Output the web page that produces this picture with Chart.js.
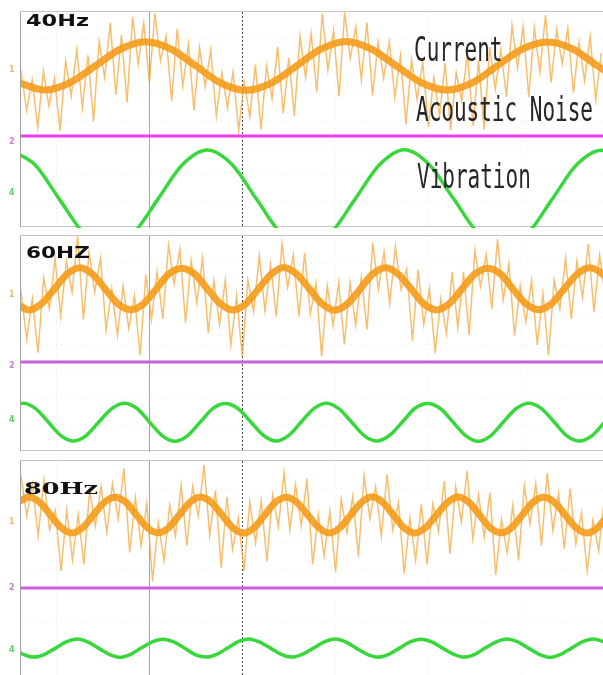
<!DOCTYPE html>
<html>
<head>
<meta charset="utf-8">
<script src="https://cdn.jsdelivr.net/npm/chart.js@4/dist/chart.umd.min.js"></script>
<style>
  body { margin: 0; background: #fff; width: 603px; height: 675px; overflow: hidden; position: relative; }
  .frame { position: absolute; left: 20px; width: 600px; height: 216px; box-sizing: border-box;
           border-left: 1px solid #a0a0a0; border-top: 1px solid #c4c4c4; border-bottom: 1px solid #c4c4c4; }
  canvas { position: absolute; left: 21px; }
  .freq { position: absolute; font-weight: bold; color: #111; white-space: nowrap; transform-origin: 0 0; }
  .name { position: absolute; font: 21px/21px "DejaVu Sans Mono", monospace; color: #262626;
          white-space: nowrap; transform: scaleY(1.6); transform-origin: 0 0; }
  .mark { position: absolute; left: 9px; font: bold 8px/8px "DejaVu Sans", sans-serif; opacity: 0.8; }
</style>
</head>
<body>
<div class="frame" style="top:11px"></div>
<div class="frame" style="top:235px"></div>
<div class="frame" style="top:460px"></div>
<canvas id="p40" width="583" height="216" style="top:12px"></canvas>
<canvas id="p60" width="583" height="216" style="top:236px"></canvas>
<canvas id="p80" width="583" height="216" style="top:461px"></canvas>

<div class="freq" style="left:26px;top:13px;font:bold 16px/16px 'DejaVu Sans';transform:scaleX(1.4)">40Hz</div>
<div class="freq" style="left:26px;top:245px;font:bold 16px/16px 'DejaVu Sans';transform:scaleX(1.35)">60HZ</div>
<div class="freq" style="left:24px;top:480px;font:bold 17px/17px 'DejaVu Serif';transform:scaleX(1.5)">80Hz</div>

<div class="name" style="left:414px;top:34px">Current</div>
<div class="name" style="left:416px;top:94px">Acoustic Noise</div>
<div class="name" style="left:417px;top:161px">Vibration</div>

<div class="mark" style="top:66px;color:#e9a548">1</div>
<div class="mark" style="top:138px;color:#d84fd8">2</div>
<div class="mark" style="top:189px;color:#39c43f">4</div>
<div class="mark" style="top:291px;color:#e9a548">1</div>
<div class="mark" style="top:362px;color:#b35ac9">2</div>
<div class="mark" style="top:416px;color:#39c43f">4</div>
<div class="mark" style="top:518px;color:#e9a548">1</div>
<div class="mark" style="top:584px;color:#c35ad6">2</div>
<div class="mark" style="top:646px;color:#39c43f">4</div>

<script>
// scope divisions: x = 0 is the grey grid line, y = 0 is the middle of each panel
const xMin = -1.387, xMax = 4.882;
const gridX = [-1, 0, 1, 2, 3, 4];
const gridY = [-3, -2, -1, 0, 1, 2, 3];

// first sample time and sample step of each trace (40Hz, 60Hz, 80Hz)
const noiseStart = -1.387;
const noiseStep = [0.06, 0.061, 0.0615];
const currentStart = [-1.40, -1.438, -1.416];
const currentStep = [0.27, 0.137, 0.1153];
const vibStart = [-1.505, -1.502, -1.479];
const vibStep = [0.265, 0.136, 0.1156];
const groundLevel = [-0.59, -0.67, -0.70];

const noise40 = [1.85,0.35,1.48,-0.27,1.81,0.52,1.55,-0.40,2.19,0.89,
  2.61,0.45,2.40,-0.05,2.91,1.56,3.60,0.94,3.15,0.65,
  3.82,2.07,3.59,1.38,3.95,2.19,3.11,0.71,3.39,1.25,
  2.80,0.35,2.69,1.24,2.60,0.16,1.75,0.45,1.78,-0.40,
  1.41,0.12,2.05,-0.35,1.99,0.79,2.71,0.25,2.30,0.15,
  3.11,1.56,3.20,1.04,3.95,1.85,3.32,0.87,3.99,2.28,
  3.45,1.49,3.61,0.91,2.89,1.55,2.90,0.85,2.39,-0.16,
  2.20,0.76,2.15,-0.25,1.58,0.13,2.11,-0.38,1.75,0.71,
  2.49,-0.21,2.21,-0.35,2.70,1.15,2.61,0.86,3.50,1.94,
  3.45,0.85,3.42,1.77,3.89,1.38,3.35,2.09,3.41,1.01,
  2.89,1.45,3.10,0.75,2.49];
const noise60 = [1.95,0.17,1.68,-0.32,2.46,1.30,3.17,1.03,3.06,1.93,
  3.98,0.90,3.40,1.92,3.18,0.51,2.05,0.32,2.15,0.57,
  1.78,-0.42,2.56,0.90,2.67,0.93,3.66,2.23,3.51,0.80,
  3.10,1.52,3.18,0.41,2.35,0.72,2.35,-0.03,1.78,-0.45,
  2.36,1.20,3.27,1.23,2.96,1.03,3.71,2.10,3.30,1.02,
  3.38,1.11,2.25,-0.45,2.15,0.67,2.28,-0.02,2.26,0.70,
  2.47,0.53,3.76,2.03,3.41,1.50,3.60,2.02,2.78,0.11,
  2.75,0.72,2.05,-0.33,1.68,0.38,2.66,0.60,2.67,0.33,
  3.46,2.13,3.31,1.30,3.90,1.62,2.98,0.31,2.15,0.82,
  2.35,-0.03,1.88,-0.42,2.36,1.30,3.17,0.93,3.06,1.73,
  3.71,1.20,3.30,1.72];
const noise80 = [3.46,1.96,3.15,1.23,3.31,1.45,2.17,-0.07,2.18,0.33,
  2.00,0.17,2.92,1.59,3.06,1.36,3.16,1.85,3.73,0.61,
  2.65,0.87,2.43,-0.45,1.73,0.30,2.37,1.22,3.09,0.86,
  3.06,1.96,3.85,1.23,2.91,0.05,2.67,0.73,1.88,-0.07,
  2.50,0.97,2.52,0.29,2.76,1.56,3.56,1.45,3.13,1.61,
  3.35,0.17,2.03,0.48,2.13,-0.10,2.57,1.32,2.69,0.46,
  3.46,1.86,3.05,1.23,3.51,1.45,2.47,-0.17,1.88,0.33,
  2.40,0.17,2.42,1.39,3.26,0.56,3.06,1.75,3.63,1.11,
  2.75,1.17,2.83,-0.22,1.83,0.60,2.37,0.32,3.09,1.66,
  3.16,0.86,3.55,1.43,2.81,0.75,2.97,0.93,2.08,-0.07,
  1.80,0.67,2.62];

const current40 = [1.37,1.11,1.38,2.00,2.62,2.90,2.64,2.01,1.37,1.10,1.36,1.99,2.63,
  2.91,2.63,2.00,1.38,1.11,1.37,2.00,2.62,2.89,2.64,2.01,1.37];
const current60 = [1.49,1.26,1.50,2.04,2.59,2.82,2.58,2.03,
  1.48,1.27,1.49,2.05,2.60,2.81,2.59,2.04,
  1.50,1.26,1.48,2.03,2.58,2.83,2.59,2.05,
  1.49,1.25,1.49,2.04,2.60,2.82,2.58,2.04,
  1.48,1.26,1.50,2.05,2.59,2.81,2.60,2.03,
  1.49,1.27,1.49,2.04,2.58,2.82,2.59,2.04];
const current80 = [2.47,2.67,2.47,2.00,1.53,1.33,1.53,2.00,
  2.46,2.66,2.48,2.01,1.54,1.34,1.52,1.99,
  2.47,2.67,2.47,2.00,1.53,1.32,1.53,2.01,
  2.48,2.66,2.46,2.00,1.54,1.33,1.53,2.00,
  2.47,2.68,2.47,1.99,1.52,1.33,1.54,2.00,
  2.46,2.67,2.48,2.01,1.53,1.34,1.53,2.00,
  2.47,2.66,2.47,2.00,1.53,1.33,1.52,2.00];

const vibration40 = [-1.12,-1.65,-2.93,-4.21,-4.74,-4.21,-2.93,-1.65,
  -1.11,-1.64,-2.93,-4.21,-4.74,-4.21,-2.93,-1.65,
  -1.10,-1.64,-2.92,-4.20,-4.74,-4.21,-2.93,-1.65,
  -1.12,-1.65];
const vibration60 = [-2.39,-2.19,-2.39,-2.89,-3.39,-3.59,-3.39,-2.89,
  -2.40,-2.19,-2.38,-2.89,-3.39,-3.60,-3.40,-2.90,
  -2.39,-2.20,-2.39,-2.88,-3.38,-3.59,-3.39,-2.89,
  -2.39,-2.19,-2.40,-2.90,-3.40,-3.59,-3.38,-2.89,
  -2.38,-2.20,-2.39,-2.89,-3.39,-3.60,-3.39,-2.88,
  -2.39,-2.19,-2.39,-2.89,-3.40,-3.59,-3.39,-2.89,
  -2.39];
const vibration80 = [-2.93,-3.16,-3.26,-3.16,-2.93,-2.70,-2.59,-2.70,
  -2.93,-3.16,-3.27,-3.16,-2.92,-2.70,-2.60,-2.70,
  -2.93,-3.17,-3.26,-3.16,-2.93,-2.69,-2.59,-2.71,
  -2.93,-3.16,-3.26,-3.15,-2.93,-2.70,-2.59,-2.70,
  -2.94,-3.16,-3.26,-3.16,-2.93,-2.70,-2.60,-2.70,
  -2.93,-3.15,-3.26,-3.16,-2.92,-2.70,-2.59,-2.70,
  -2.93,-3.16,-3.27,-3.16,-2.93,-2.70,-2.59,-2.70,
  -2.93];

const magentaColor = ['#ee3cee', '#c463d8', '#c95fdc'];

// sample i is taken at start + i * step
function samples(start, step, values) {
  return values.map((v, i) => ({ x: start + i * step, y: v }));
}

function makePanel(id, k, noise, current, vibration) {
  const gx = (ctx) => ctx.tick.value === 1 ? '#4a4a4a' : ctx.tick.value === 0 ? '#a4a4a4' : 'rgba(0,0,0,0.09)';
  const gdash = (ctx) => ctx.tick.value === 1 ? [2, 2] : ctx.tick.value === 0 ? [] : [1, 3];
  new Chart(document.getElementById(id), {
    type: 'line',
    data: {
      datasets: [
        { label: 'Vibration', data: samples(vibStart[k], vibStep[k], vibration), borderColor: '#38d83c',
          borderWidth: 3.5, cubicInterpolationMode: 'monotone', order: 0 },
        { label: 'ground', data: [{ x: xMin, y: groundLevel[k] }, { x: xMax, y: groundLevel[k] }],
          borderColor: magentaColor[k], borderWidth: 3, order: 1 },
        { label: 'Current', data: samples(currentStart[k], currentStep[k], current), borderColor: 'rgba(244,155,26,0.9)',
          borderWidth: 7, cubicInterpolationMode: 'monotone', order: 2 },
        { label: 'Acoustic Noise', data: samples(noiseStart, noiseStep[k], noise), borderColor: 'rgba(244,166,52,0.72)',
          borderWidth: 1.5, tension: 0, order: 3 }
      ]
    },
    options: {
      responsive: false,
      animation: false,
      layout: { padding: 0 },
      elements: { point: { radius: 0 } },
      datasets: { line: { clip: 0 } },
      plugins: { legend: { display: false }, tooltip: { enabled: false } },
      scales: {
        x: {
          type: 'linear', min: xMin, max: xMax,
          afterBuildTicks: (s) => { s.ticks = gridX.map(v => ({ value: v })); },
          ticks: { display: false },
          grid: { drawTicks: false, color: gx, lineWidth: 1 },
          border: { display: false, dash: gdash }
        },
        y: {
          min: -4, max: 4,
          afterBuildTicks: (s) => { s.ticks = gridY.map(v => ({ value: v })); },
          ticks: { display: false },
          grid: { drawTicks: false, color: 'rgba(0,0,0,0.08)' },
          border: { display: false, dash: [1, 4] }
        }
      }
    }
  });
}

makePanel('p40', 0, noise40, current40, vibration40);
makePanel('p60', 1, noise60, current60, vibration60);
makePanel('p80', 2, noise80, current80, vibration80);
</script>
</body>
</html>
